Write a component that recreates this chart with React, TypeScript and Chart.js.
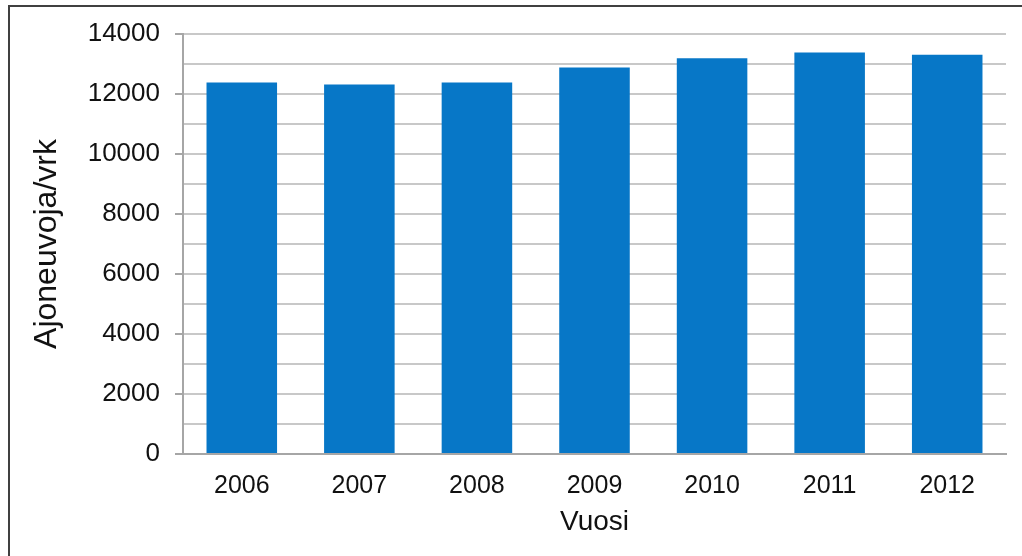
import React, { useEffect, useRef } from "react";
import { Chart, registerables } from "chart.js";

Chart.register(...registerables);

const years = ["2006", "2007", "2008", "2009", "2010", "2011", "2012"];
const vehiclesPerDay = [12380, 12320, 12380, 12880, 13190, 13380, 13310];
const yTitle = "Ajoneuvoja/vrk";
const xTitle = "Vuosi";

export default function App() {
  const ref = useRef<HTMLCanvasElement | null>(null);

  useEffect(() => {
    document.body.style.margin = "0";
    const ctx = ref.current!;
    const chart = new Chart(ctx, {
      type: "bar",
      data: {
        labels: years,
        datasets: [
          {
            data: vehiclesPerDay,
            backgroundColor: "#0777c7",
            borderWidth: 0,
            barPercentage: 0.6,
            categoryPercentage: 1,
          },
        ],
      },
      options: {
        animation: false,
        responsive: false,
        maintainAspectRatio: false,
        events: [],
        layout: { padding: { left: 0, top: 34, right: 16, bottom: 0 } },
        plugins: { legend: { display: false }, tooltip: { enabled: false } },
        scales: {
          x: {
            grid: { display: false, drawTicks: false },
            border: { display: true, color: "#a6a6a6", width: 2 },
            ticks: {
              padding: 17,
              color: "#111",
              font: { family: "Liberation Sans, Arial, sans-serif", size: 25 },
            },
            title: {
              display: true,
              text: xTitle,
              color: "#111",
              font: { family: "Liberation Sans, Arial, sans-serif", size: 28 },
              padding: { top: 0, bottom: 17 },
            },
            afterFit: (s: any) => {
              s.height = 102;
            },
          },
          y: {
            min: 0,
            max: 14000,
            ticks: {
              stepSize: 1000,
              autoSkip: false,
              padding: 15,
              color: "#111",
              font: { family: "Liberation Sans, Arial, sans-serif", size: 26 },
              callback: (v: any) => (Number(v) % 2000 === 0 ? String(v) : ""),
            },
            grid: {
              color: "#c8c8c8",
              lineWidth: 2,
              tickLength: 8,
              tickColor: (c: any) =>
                c.tick && c.tick.value % 2000 === 0 ? "#a6a6a6" : "rgba(0,0,0,0)",
            },
            border: { display: true, color: "#a6a6a6", width: 2 },
            title: {
              display: true,
              text: yTitle,
              color: "#111",
              font: { family: "Liberation Sans, Arial, sans-serif", size: 32 },
              padding: { top: 28, bottom: 0 },
            },
            afterFit: (s: any) => {
              s.width = 183;
            },
          },
        },
      },
    });
    return () => chart.destroy();
  }, []);

  return (
    <div style={{ position: "absolute", left: 0, top: 0, width: 1022, height: 556, background: "#fff" }}>
      <canvas ref={ref} width={1022} height={556} style={{ display: "block" }} />
      <div style={{ position: "absolute", left: 8, top: 5, width: 2, height: 551, background: "#404040" }} />
      <div style={{ position: "absolute", left: 8, top: 5, width: 1014, height: 2, background: "#404040" }} />
    </div>
  );
}
